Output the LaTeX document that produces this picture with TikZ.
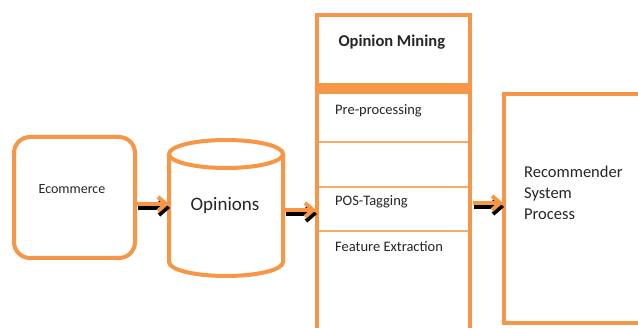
\documentclass[tikz,border=0pt]{standalone}
\usepackage{fontspec}
\setmainfont{Carlito}
\usetikzlibrary{calc,shapes.geometric}
\definecolor{orng}{HTML}{F79646}
\definecolor{txt}{HTML}{262626}
\begin{document}
\begin{tikzpicture}[x=1pt,y=-1pt,
  ob/.style={draw=orng,line width=4pt},
  thinl/.style={draw=orng!80,line width=1.2pt},
  lbl/.style={text=txt,inner sep=0pt,font=\fontsize{14.5}{17}\selectfont},
  flowarrow/.style={line width=4pt}]
\useasboundingbox (0,0) rectangle (638,328);
\clip (0,0) rectangle (638,328);
\fill[white] (0,0) rectangle (638,328);
% Ecommerce
\draw[ob,rounded corners=16pt] (14,137) rectangle (135,258);
\node[lbl,anchor=center,font=\fontsize{14}{17}\selectfont] (ecom) at (72,189) {Ecommerce};
\coordinate (ecomR) at (137,204);
% cylinder
\draw[ob] (169,154) -- (169,262) arc[start angle=180,end angle=0,x radius=57,y radius=14] -- (283,154);
\draw[ob] (226,154) ellipse[x radius=57,y radius=14];
\node[text=txt,font=\fontsize{19}{22}\selectfont] (opin) at (225,205) {Opinions};
\coordinate (opL) at (167,204);
\coordinate (opR) at (285,210);
% Opinion mining column
\draw[ob] (317,15) rectangle (470,340);
\fill[orng] (315,83) rectangle (472,94);
\draw[thinl] (319,142) -- (468,142);
\draw[thinl] (319,187) -- (468,187);
\draw[thinl] (319,231) -- (468,231);
\node[text=txt,font=\bfseries\fontsize{16.5}{19}\selectfont,anchor=west] (om) at (335,42) {Opinion Mining};
\node[lbl,anchor=west] (pre) at (335,111) {Pre-processing};
\node[lbl,anchor=west] (pos) at (335,202) {POS-Tagging};
\node[lbl,anchor=west] (fe) at (335,247) {Feature Extraction};
\coordinate (colL) at (314,210);
\coordinate (colR) at (473,203);
% Recommender
\draw[ob] (504,94) rectangle (660,323);
\node[text=txt,font=\fontsize{16.5}{21}\selectfont,align=left,anchor=north west,inner sep=0pt] (rec) at (524,166) {Recommender\\System\\Process};
\coordinate (recL) at (501,203);
% arrows: black shadow then orange
\foreach \a/\b in {ecomR/opL,opR/colL,colR/recL}{
  \draw[flowarrow,black] ($(\a)+(1,4)$) -- ($(\b)+(-1,4)$);
  \draw[flowarrow,black,line join=miter] ($(\b)+(-8,-3)$) -- ($(\b)+(0,4)$) -- ($(\b)+(-8,11)$);
  \draw[flowarrow,orng] (\a) -- ($(\b)+(-2,0)$);
  \draw[flowarrow,orng,line join=miter] ($(\b)+(-9,-7)$) -- ($(\b)+(-1,0)$) -- ($(\b)+(-9,7)$);
}
\end{tikzpicture}
\end{document}
